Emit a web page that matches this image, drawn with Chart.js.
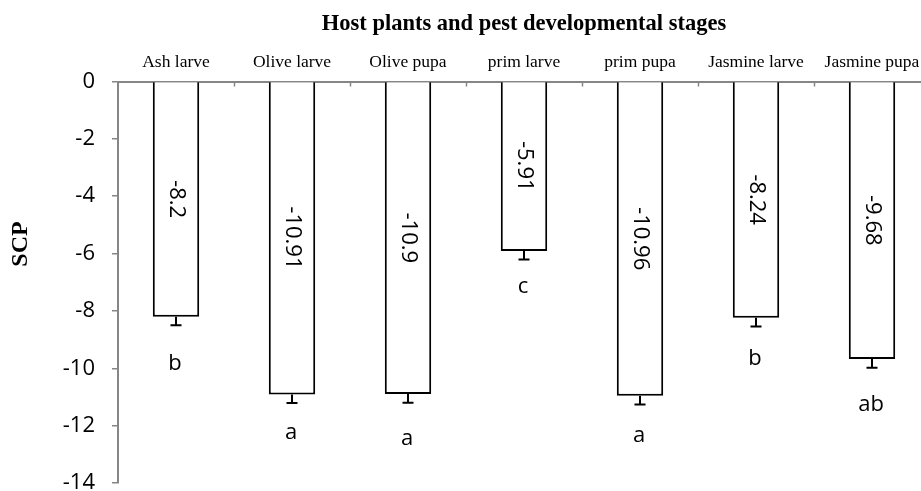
<!DOCTYPE html>
<html>
<head>
<meta charset="utf-8">
<script src="https://cdn.jsdelivr.net/npm/chart.js@4.4.1/dist/chart.umd.min.js"></script>
<style>
    html, body { margin: 0; padding: 0; background: #fff; overflow: hidden; }
    #wrap { width: 930px; height: 491px; position: relative; }
</style>
</head>
<body>
<div id="wrap"><canvas id="scpChart"></canvas></div>
<script>
const categories = ["Ash larve", "Olive larve", "Olive pupa", "prim larve", "prim pupa", "Jasmine larve", "Jasmine pupa"];
const scpMeans = [-8.2, -10.91, -10.9, -5.91, -10.96, -8.24, -9.68];
const scpErrors = [0.3, 0.3, 0.3, 0.3, 0.3, 0.3, 0.3];
const groupLetters = ["b", "a", "a", "c", "a", "b", "ab"];

const axisColor = "#868686";
const sansFont = "'Open Sans', 'Noto Sans', sans-serif";
const serifFont = "'Liberation Serif', 'Times New Roman', serif";
// how far below each error cap the letter sits (px), hand placed in the original
const letterDrop = [38, 30, 36, 27, 31, 32, 37];

const overlay = {
    id: "overlay",
    afterDatasetsDraw(chart) {
        const {ctx, chartArea, scales: {x, y}} = chart;
        const meta = chart.getDatasetMeta(0);
        const step = (chartArea.right - chartArea.left) / categories.length;

        ctx.save();
        // small tick marks between categories, pointing into the plot
        ctx.strokeStyle = axisColor;
        ctx.lineWidth = 1.5;
        for (let i = 1; i < categories.length; i++) {
            const px = Math.round(x.getPixelForValue(i) - step / 2) + 0.5;
            ctx.beginPath();
            ctx.moveTo(px, chartArea.top);
            ctx.lineTo(px, chartArea.top + 5);
            ctx.stroke();
        }

        ctx.strokeStyle = "#000";
        ctx.fillStyle = "#000";
        ctx.lineWidth = 2;
        meta.data.forEach((bar, i) => {
            const cx = bar.x;
            const yEnd = y.getPixelForValue(scpMeans[i]);
            const yErr = y.getPixelForValue(scpMeans[i] - scpErrors[i]);

            // error bar
            ctx.beginPath();
            ctx.moveTo(cx, yEnd);
            ctx.lineTo(cx, yErr);
            ctx.moveTo(cx - 5.5, yErr);
            ctx.lineTo(cx + 5.5, yErr);
            ctx.stroke();

            // value inside the bar, turned on its side
            ctx.save();
            ctx.translate(cx, y.getPixelForValue(scpMeans[i] / 2));
            ctx.rotate(Math.PI / 2);
            ctx.font = "22px " + sansFont;
            ctx.textAlign = "center";
            ctx.textBaseline = "middle";
            ctx.fillText(String(scpMeans[i]), 0, 0);
            ctx.restore();

            // significance letter
            ctx.font = "22px " + sansFont;
            ctx.textAlign = "center";
            ctx.textBaseline = "middle";
            ctx.fillText(groupLetters[i], cx - 1, yErr + letterDrop[i]);
        });

        // y axis title
        ctx.save();
        ctx.translate(21, 244);
        ctx.rotate(-Math.PI / 2);
        ctx.font = "bold 24px " + serifFont;
        ctx.textAlign = "center";
        ctx.textBaseline = "middle";
        ctx.fillText("SCP", 0, 0);
        ctx.restore();

        ctx.restore();
    }
};

new Chart(document.getElementById("scpChart"), {
    type: "bar",
    data: {
        labels: categories,
        datasets: [{
            data: scpMeans,
            backgroundColor: "#fff",
            borderColor: "#000",
            borderWidth: 2,
            categoryPercentage: 1,
            barPercentage: 0.4
        }]
    },
    options: {
        responsive: true,
        maintainAspectRatio: false,
        animation: false,
        layout: {padding: {left: 0, right: 0, top: 0, bottom: 8}},
        plugins: {
            legend: {display: false},
            tooltip: {enabled: false},
            title: {
                display: true,
                fullSize: false,
                text: "Host plants and pest developmental stages",
                color: "#000",
                font: {family: serifFont, size: 22.5, weight: "bold", lineHeight: 1.2},
                padding: {top: 10.5, bottom: 6}
            }
        },
        scales: {
            x: {
                position: "top",
                offset: true,
                grid: {display: true, drawOnChartArea: false, drawTicks: false},
                border: {display: true, color: axisColor, width: 2},
                ticks: {
                    color: "#000",
                    padding: 8.5,
                    maxRotation: 0,
                    autoSkip: false,
                    font: {family: serifFont, size: 17.5, lineHeight: 1.2}
                },
                afterFit(scale) {
                    scale.paddingLeft = 0;
                    scale.paddingRight = 0;
                }
            },
            y: {
                min: -14,
                max: 0,
                ticks: {
                    stepSize: 2,
                    color: "#000",
                    padding: 17,
                    font: {family: sansFont, size: 22}
                },
                grid: {drawOnChartArea: false, drawTicks: true, tickLength: 6, color: axisColor, lineWidth: 1.5},
                border: {display: true, color: axisColor, width: 2},
                afterFit(scale) {
                    scale.width = 118;
                    scale.paddingTop = 0;
                    scale.paddingBottom = 0;
                }
            }
        }
    },
    plugins: [overlay]
});
</script>
</body>
</html>
